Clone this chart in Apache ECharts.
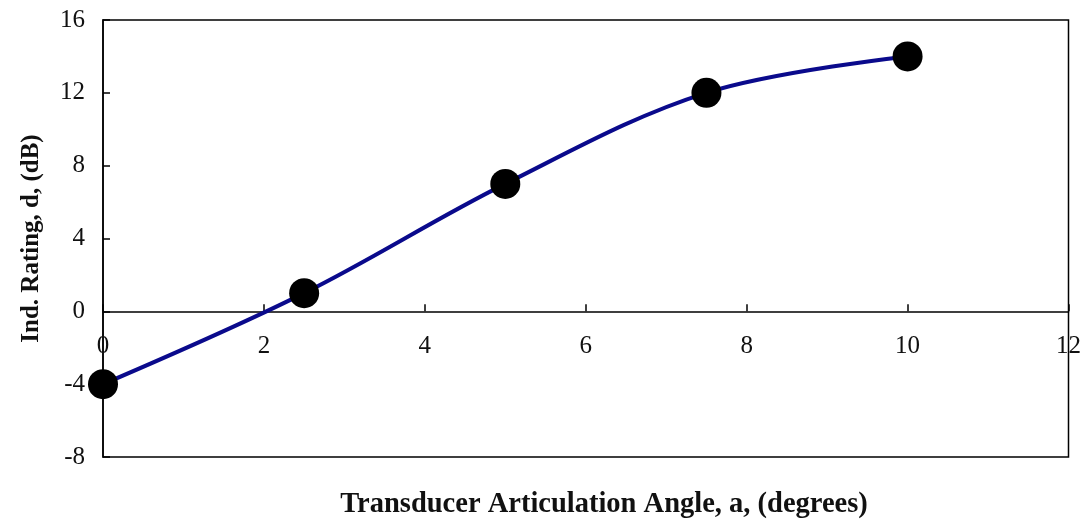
<!DOCTYPE html>
<html>
<head>
<meta charset="utf-8">
<script src="https://cdn.jsdelivr.net/npm/echarts@6/dist/echarts.min.js"></script>
<style>
  html, body { margin: 0; padding: 0; background: #fff; }
  #chart { width: 1084px; height: 522px; }
</style>
</head>
<body>
<div id="chart"></div>
<script>
// Articulation angle (degrees) and the matching indicator rating (dB)
const angles = [0, 2.5, 5, 7.5, 10];
const ratings = [-4, 1, 7, 12, 14];

const xTitle = 'Transducer Articulation Angle, a, (degrees)';
const yTitle = 'Ind. Rating, d, (dB)';

const serif = '"Liberation Serif", "DejaVu Serif", serif';

const gridTop = 20, gridBottom = 65, chartH = 522;
const yMin = -8, yMax = 16;
// distance from the plot's bottom edge up to the y = 0 line
const plotH = chartH - gridTop - gridBottom;
const zeroLift = plotH * (0 - yMin) / (yMax - yMin);

const chart = echarts.init(document.getElementById('chart'), null, { renderer: 'canvas' });

const xScale = { type: 'value', min: 0, max: 12, interval: 2, splitLine: { show: false } };

chart.setOption({
  backgroundColor: '#ffffff',
  animation: false,
  grid: {
    left: 103, right: 12, top: gridTop, bottom: gridBottom,
    show: true, borderColor: '#000', borderWidth: 1.5
  },
  xAxis: [
    Object.assign({}, xScale, {
      // axis line and ticks sit on y = 0
      axisLine: { onZero: true, lineStyle: { color: '#000', width: 1.5 } },
      axisTick: { inside: true, length: 7, lineStyle: { color: '#000', width: 1.5 } },
      axisLabel: { show: false }
    }),
    Object.assign({}, xScale, {
      // tick labels hang just under the y = 0 line
      position: 'bottom',
      offset: -zeroLift,
      axisLine: { show: false, onZero: false },
      axisTick: { show: false },
      axisLabel: { color: '#111', fontFamily: serif, fontSize: 25, margin: 23 }
    })
  ],
  yAxis: {
    type: 'value',
    min: yMin, max: yMax, interval: 4,
    name: yTitle,
    nameLocation: 'middle',
    nameGap: 59,
    nameRotate: 90,
    nameTextStyle: { color: '#111', fontFamily: serif, fontSize: 25, fontWeight: 'bold' },
    axisLine: { lineStyle: { color: '#000', width: 1.5 } },
    axisTick: { inside: true, length: 7, lineStyle: { color: '#000', width: 1.5 } },
    axisLabel: { color: '#111', fontFamily: serif, fontSize: 25, margin: 18 },
    splitLine: { show: false }
  },
  graphic: [{
    type: 'text',
    x: 604, y: 505,
    style: {
      text: xTitle,
      fill: '#111',
      font: 'bold 28.5px ' + serif,
      textAlign: 'center',
      textVerticalAlign: 'middle'
    }
  }],
  series: [{
    type: 'line',
    data: angles.map((a, i) => [a, ratings[i]]),
    smooth: 0.35,
    symbol: 'circle',
    symbolSize: 30,
    lineStyle: { color: '#0a0a8c', width: 4 },
    itemStyle: { color: '#000' },
    z: 3
  }]
});
</script>
</body>
</html>
